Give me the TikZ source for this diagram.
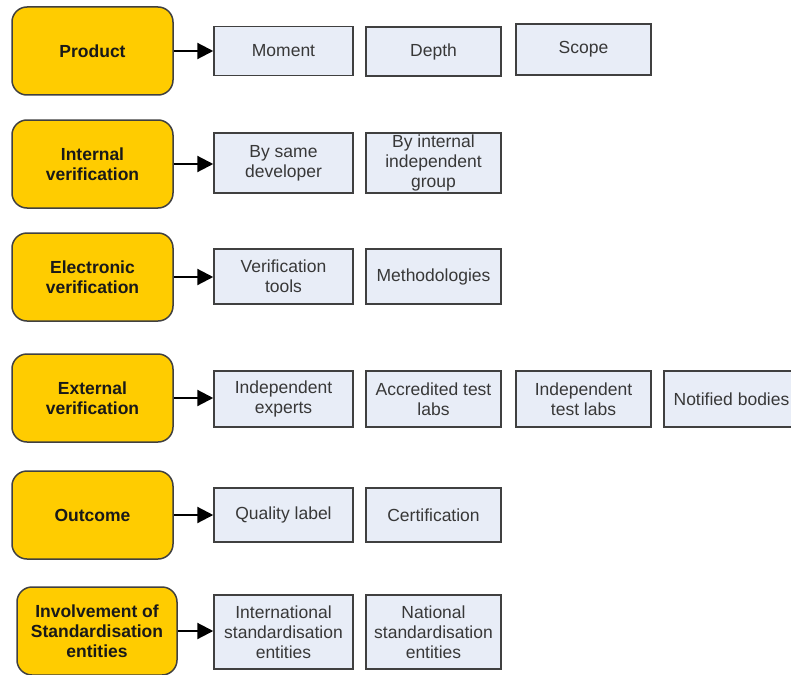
\documentclass[tikz,border=0pt]{standalone}
\usepackage{fontspec}
\setmainfont{Liberation Sans}
\usetikzlibrary{arrows.meta}
\definecolor{topicfill}{HTML}{FFCC00}
\definecolor{itemfill}{HTML}{E8EDF7}
\definecolor{edgegray}{HTML}{404040}
\definecolor{itemtext}{HTML}{383838}
\begin{document}
\begin{tikzpicture}[x=1pt,y=-1pt,
  topic/.style={draw=edgegray, line width=1.5pt, fill=topicfill,
    rounded corners=15pt, minimum width=161pt, minimum height=88pt,
    inner sep=0pt, align=center, text=black!90,
    font=\fontsize{17.5}{20}\selectfont\bfseries},
  item/.style={draw=edgegray, line width=1.5pt, fill=itemfill,
    minimum width=135pt, inner sep=0pt, align=center, text=itemtext,
    font=\fontsize{17.5}{20}\selectfont},
  wide/.style={minimum width=139pt},
  link/.style={line width=2.2pt, -{Triangle[length=16pt,width=16pt]}}
]
\useasboundingbox (0,0) rectangle (791,674);

% Row 1: product
\node[topic] (product) at (92.5,51) {Product};
\node[item,wide,minimum height=49pt] (moment) at (283.5,51) {Moment};
\node[item,minimum height=49pt] (depth) at (433.5,51.5) {Depth};
\node[item,minimum height=51pt] (scope) at (583.5,49.5) {Scope};
\draw[link] (product.east) -- (product.east -| moment.west);

% Row 2: internal verification
\node[topic] (internal) at (92.5,164) {Internal\\verification};
\node[item,wide,minimum height=60pt] (samedev) at (283.5,163) {By same\\developer};
\node[item,minimum height=60pt] (intgroup) at (433.5,163) {By internal\\independent\\group};
\draw[link] (internal.east) -- (internal.east -| samedev.west);

% Row 3: electronic verification
\node[topic] (electronic) at (92.5,277) {Electronic\\verification};
\node[item,wide,minimum height=55pt] (tools) at (283.5,276.5) {Verification\\tools};
\node[item,minimum height=55pt] (methods) at (433.5,276.5) {Methodologies};
\draw[link] (electronic.east) -- (electronic.east -| tools.west);

% Row 4: external verification
\node[topic] (external) at (92.5,398) {External\\verification};
\node[item,wide,minimum height=56pt] (experts) at (283.5,399) {Independent\\experts};
\node[item,minimum height=56pt] (accredited) at (433.5,399) {Accredited test\\labs};
\node[item,minimum height=56pt] (indlabs) at (583.5,399) {Independent\\test labs};
\node[item,minimum height=56pt] (notified) at (731.5,399) {Notified bodies};
\draw[link] (external.east) -- (external.east -| experts.west);

% Row 5: outcome
\node[topic] (outcome) at (92.5,515) {Outcome};
\node[item,wide,minimum height=54pt] (quality) at (283.5,515) {Quality label};
\node[item,minimum height=54pt] (cert) at (433.5,515) {Certification};
\draw[link] (outcome.east) -- (outcome.east -| quality.west);

% Row 6: standardisation entities
\node[topic,minimum width=160pt] (involve) at (97,631) {Involvement of\\Standardisation\\entities};
\node[item,wide,minimum height=74pt] (intstd) at (283.5,632) {International\\standardisation\\entities};
\node[item,minimum height=74pt] (natstd) at (433.5,632) {National\\standardisation\\entities};
\draw[link] (involve.east) -- (involve.east -| intstd.west);
\end{tikzpicture}
\end{document}
